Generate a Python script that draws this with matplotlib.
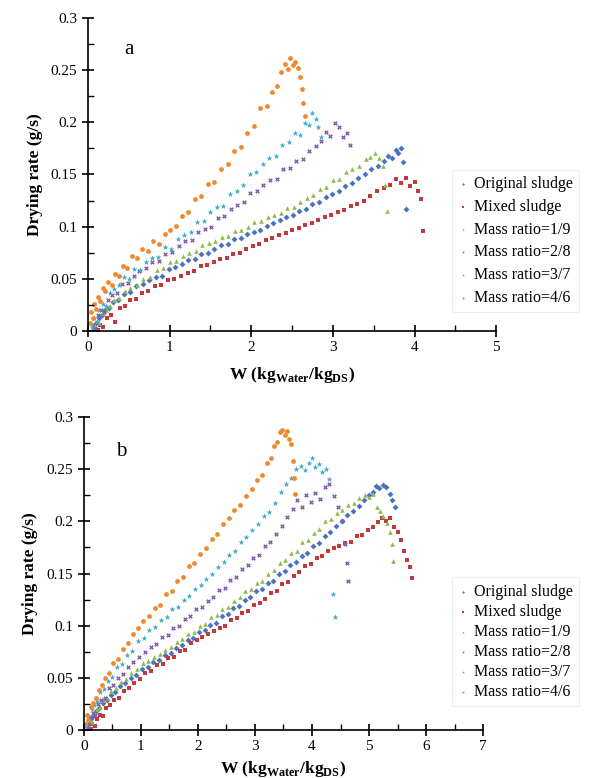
import matplotlib
matplotlib.use("Agg")
import matplotlib.pyplot as plt
from matplotlib.ticker import MultipleLocator

### Fonts (Times-like serif, as in the original figure)
plt.rcParams['font.family'] = ['Liberation Serif', 'DejaVu Serif']
plt.rcParams['mathtext.fontset'] = 'custom'
plt.rcParams['mathtext.rm'] = 'Liberation Serif'
plt.rcParams['mathtext.bf'] = 'Liberation Serif:bold'

### Series names
labels = ['Original sludge', 'Mixed sludge', 'Mass ratio=1/9',
          'Mass ratio=2/8', 'Mass ratio=3/7', 'Mass ratio=4/6']

### Panel a data (W in kg water / kg DS, drying rate in g/s)
orig_a_x = [0.07,0.1,0.13,0.17,0.21,0.26,0.31,0.37,0.44,0.51,0.59,0.67,0.75,0.83,0.91,0.99,1.07,1.15,1.23,1.31,1.39,1.47,1.55,1.63,1.71,1.79,1.87,1.95,2.03,2.11,2.19,2.27,2.35,2.43,2.51,2.59,2.67,2.75,2.83,2.91,2.99,3.07,3.15,3.23,3.31,3.39,3.47,3.55,3.62,3.68,3.73,3.77,3.8,3.83,3.86,3.9]
orig_a_y = [0.002,0.008,0.012,0.015,0.02,0.022,0.028,0.03,0.035,0.037,0.043,0.045,0.049,0.052,0.053,0.059,0.061,0.064,0.068,0.069,0.074,0.075,0.079,0.082,0.083,0.088,0.089,0.093,0.095,0.097,0.101,0.103,0.106,0.109,0.111,0.115,0.117,0.122,0.124,0.128,0.131,0.134,0.139,0.142,0.147,0.15,0.155,0.158,0.163,0.168,0.166,0.173,0.171,0.175,0.162,0.117]

mixed_a_x = [0.12,0.15,0.19,0.23,0.28,0.33,0.39,0.45,0.52,0.59,0.66,0.74,0.82,0.9,0.98,1.06,1.14,1.22,1.3,1.38,1.46,1.54,1.62,1.7,1.78,1.86,1.94,2.02,2.1,2.18,2.26,2.34,2.42,2.5,2.58,2.66,2.74,2.82,2.9,2.98,3.06,3.14,3.22,3.3,3.38,3.46,3.54,3.62,3.7,3.77,3.84,3.9,3.95,4.0,4.04,4.08,4.1]
mixed_a_y = [0.001,0.006,0.004,0.012,0.015,0.009,0.022,0.024,0.03,0.031,0.036,0.038,0.043,0.044,0.049,0.05,0.053,0.056,0.057,0.062,0.063,0.066,0.069,0.07,0.074,0.075,0.079,0.081,0.083,0.087,0.089,0.092,0.094,0.097,0.099,0.102,0.103,0.106,0.109,0.111,0.114,0.116,0.12,0.122,0.125,0.129,0.134,0.137,0.14,0.146,0.142,0.147,0.139,0.143,0.134,0.126,0.096]

r19_a_x = [0.08,0.11,0.14,0.18,0.22,0.27,0.32,0.38,0.45,0.52,0.6,0.68,0.76,0.84,0.92,1.0,1.08,1.16,1.24,1.32,1.4,1.48,1.56,1.64,1.72,1.8,1.88,1.96,2.04,2.12,2.2,2.28,2.36,2.44,2.52,2.6,2.68,2.76,2.84,2.92,3.0,3.08,3.16,3.24,3.32,3.4,3.46,3.52,3.57,3.61,3.64,3.66]
r19_a_y = [0.003,0.01,0.008,0.017,0.02,0.024,0.03,0.032,0.038,0.041,0.044,0.05,0.052,0.058,0.06,0.066,0.067,0.072,0.075,0.077,0.082,0.084,0.086,0.09,0.091,0.096,0.097,0.1,0.104,0.105,0.109,0.111,0.113,0.118,0.119,0.124,0.127,0.13,0.136,0.138,0.145,0.146,0.152,0.155,0.158,0.165,0.167,0.171,0.166,0.158,0.14,0.115]

r28_a_x = [0.06,0.09,0.12,0.16,0.2,0.25,0.3,0.36,0.42,0.49,0.56,0.63,0.71,0.79,0.87,0.95,1.03,1.11,1.19,1.27,1.35,1.43,1.51,1.59,1.67,1.75,1.83,1.91,1.99,2.07,2.15,2.23,2.31,2.39,2.47,2.55,2.63,2.71,2.79,2.86,2.92,2.97,3.02,3.07,3.12,3.17,3.21]
r28_a_y = [0.006,0.003,0.015,0.02,0.018,0.03,0.034,0.036,0.045,0.046,0.053,0.057,0.06,0.066,0.067,0.074,0.076,0.081,0.086,0.087,0.095,0.098,0.1,0.108,0.11,0.117,0.121,0.124,0.132,0.134,0.14,0.145,0.146,0.155,0.156,0.163,0.165,0.172,0.177,0.182,0.191,0.187,0.199,0.195,0.186,0.19,0.178]

r37_a_x = [0.05,0.08,0.11,0.14,0.18,0.22,0.27,0.32,0.38,0.44,0.5,0.57,0.64,0.71,0.78,0.86,0.94,1.02,1.1,1.18,1.26,1.34,1.42,1.5,1.58,1.66,1.74,1.82,1.9,1.98,2.06,2.14,2.22,2.3,2.38,2.46,2.54,2.6,2.66,2.71,2.75,2.79,2.82,2.85]
r37_a_y = [0.004,0.012,0.009,0.02,0.026,0.024,0.036,0.04,0.044,0.052,0.05,0.059,0.058,0.066,0.07,0.071,0.08,0.079,0.088,0.092,0.095,0.104,0.105,0.114,0.119,0.12,0.131,0.134,0.14,0.15,0.152,0.16,0.166,0.168,0.178,0.181,0.19,0.188,0.199,0.197,0.209,0.203,0.195,0.186]

r46_a_x = [0.02,0.04,0.06,0.08,0.1,0.12,0.15,0.18,0.21,0.25,0.29,0.33,0.38,0.43,0.48,0.54,0.6,0.66,0.73,0.8,0.87,0.94,1.01,1.08,1.15,1.23,1.31,1.39,1.47,1.55,1.63,1.71,1.79,1.87,1.95,2.03,2.11,2.19,2.26,2.32,2.37,2.41,2.45,2.48,2.51,2.54,2.57,2.6,2.62,2.64,2.66]
r46_a_y = [0.008,0.018,0.012,0.026,0.021,0.033,0.029,0.041,0.038,0.047,0.044,0.055,0.053,0.062,0.06,0.072,0.07,0.079,0.077,0.086,0.083,0.093,0.097,0.101,0.11,0.114,0.126,0.129,0.141,0.143,0.155,0.16,0.172,0.176,0.19,0.196,0.214,0.216,0.229,0.235,0.248,0.256,0.251,0.262,0.255,0.258,0.252,0.243,0.232,0.218,0.206]

### Panel b data
orig_b_x = [0.07,0.1,0.13,0.17,0.22,0.27,0.33,0.4,0.47,0.55,0.64,0.73,0.82,0.92,1.02,1.12,1.22,1.32,1.42,1.52,1.62,1.72,1.82,1.92,2.02,2.12,2.22,2.32,2.42,2.52,2.62,2.72,2.82,2.92,3.02,3.12,3.22,3.32,3.42,3.52,3.62,3.72,3.82,3.92,4.02,4.12,4.22,4.32,4.42,4.52,4.62,4.72,4.82,4.91,4.99,5.06,5.12,5.18,5.24,5.3,5.36,5.41,5.45]
orig_b_y = [0.002,0.007,0.011,0.013,0.018,0.021,0.026,0.029,0.034,0.036,0.042,0.045,0.05,0.053,0.058,0.06,0.065,0.067,0.072,0.074,0.079,0.081,0.086,0.088,0.094,0.096,0.101,0.103,0.109,0.111,0.117,0.119,0.125,0.127,0.133,0.135,0.141,0.143,0.15,0.152,0.158,0.161,0.167,0.17,0.176,0.179,0.186,0.19,0.196,0.2,0.206,0.21,0.215,0.22,0.225,0.228,0.234,0.232,0.235,0.233,0.226,0.22,0.214]

mixed_b_x = [0.12,0.15,0.19,0.23,0.28,0.33,0.39,0.46,0.53,0.61,0.7,0.79,0.88,0.98,1.08,1.18,1.28,1.38,1.48,1.58,1.68,1.78,1.88,1.98,2.08,2.18,2.28,2.38,2.48,2.58,2.68,2.78,2.88,2.98,3.08,3.18,3.28,3.38,3.48,3.58,3.68,3.78,3.88,3.98,4.08,4.18,4.28,4.38,4.48,4.58,4.68,4.78,4.88,4.98,5.07,5.15,5.23,5.3,5.37,5.44,5.5,5.56,5.61,5.66,5.71,5.75]
mixed_b_y = [0.001,0.006,0.004,0.011,0.014,0.013,0.021,0.024,0.029,0.031,0.037,0.04,0.045,0.049,0.055,0.057,0.062,0.063,0.069,0.07,0.076,0.077,0.083,0.086,0.089,0.092,0.095,0.098,0.1,0.105,0.107,0.112,0.114,0.12,0.122,0.126,0.131,0.133,0.14,0.142,0.148,0.151,0.157,0.159,0.165,0.167,0.172,0.174,0.176,0.179,0.18,0.186,0.187,0.192,0.195,0.199,0.203,0.2,0.203,0.195,0.19,0.182,0.172,0.163,0.156,0.146]

r19_b_x = [0.08,0.11,0.14,0.18,0.23,0.28,0.34,0.41,0.48,0.56,0.65,0.74,0.83,0.93,1.03,1.13,1.23,1.33,1.43,1.53,1.63,1.73,1.83,1.93,2.03,2.13,2.23,2.33,2.43,2.53,2.63,2.73,2.83,2.93,3.03,3.13,3.23,3.33,3.43,3.53,3.63,3.73,3.83,3.93,4.03,4.13,4.23,4.33,4.43,4.53,4.63,4.73,4.83,4.92,5.0,5.07,5.13,5.19,5.25,5.31,5.36,5.4,5.42]
r19_b_y = [0.003,0.01,0.008,0.016,0.02,0.022,0.029,0.031,0.037,0.04,0.046,0.049,0.055,0.058,0.064,0.066,0.07,0.073,0.077,0.08,0.084,0.087,0.092,0.094,0.1,0.102,0.108,0.11,0.116,0.118,0.124,0.127,0.133,0.135,0.141,0.143,0.15,0.153,0.16,0.163,0.17,0.172,0.18,0.182,0.189,0.193,0.2,0.202,0.208,0.211,0.216,0.218,0.222,0.225,0.223,0.226,0.214,0.21,0.205,0.198,0.19,0.178,0.162]

r28_b_x = [0.06,0.09,0.12,0.16,0.2,0.25,0.31,0.37,0.44,0.52,0.6,0.69,0.78,0.87,0.97,1.07,1.17,1.27,1.37,1.47,1.57,1.67,1.77,1.87,1.97,2.07,2.17,2.27,2.37,2.47,2.57,2.67,2.77,2.87,2.97,3.07,3.17,3.27,3.37,3.47,3.57,3.66,3.74,3.82,3.9,3.98,4.06,4.14,4.22,4.3,4.38,4.46,4.52,4.57,4.61,4.63]
r28_b_y = [0.004,0.002,0.012,0.016,0.014,0.025,0.029,0.031,0.04,0.043,0.05,0.054,0.06,0.065,0.07,0.075,0.08,0.082,0.089,0.091,0.098,0.1,0.106,0.109,0.116,0.118,0.124,0.127,0.134,0.136,0.144,0.147,0.154,0.158,0.165,0.168,0.176,0.18,0.188,0.196,0.204,0.212,0.22,0.214,0.225,0.219,0.227,0.221,0.233,0.236,0.224,0.214,0.2,0.178,0.16,0.143]

r37_b_x = [0.04,0.07,0.1,0.14,0.18,0.23,0.29,0.35,0.42,0.5,0.58,0.67,0.76,0.85,0.95,1.05,1.15,1.25,1.35,1.45,1.55,1.65,1.75,1.85,1.95,2.05,2.15,2.25,2.35,2.45,2.55,2.65,2.75,2.85,2.95,3.05,3.15,3.25,3.35,3.45,3.55,3.64,3.72,3.8,3.87,3.94,4.0,4.06,4.12,4.18,4.24,4.3,4.37,4.4]
r37_b_y = [0.004,0.012,0.009,0.02,0.024,0.028,0.036,0.039,0.047,0.051,0.06,0.063,0.072,0.076,0.085,0.088,0.096,0.099,0.105,0.108,0.116,0.118,0.125,0.128,0.135,0.139,0.145,0.15,0.156,0.161,0.168,0.172,0.18,0.185,0.192,0.197,0.205,0.209,0.218,0.228,0.236,0.242,0.25,0.253,0.249,0.256,0.261,0.252,0.255,0.247,0.25,0.241,0.13,0.108]

r46_b_x = [0.02,0.05,0.08,0.12,0.16,0.21,0.26,0.32,0.38,0.45,0.52,0.6,0.68,0.77,0.86,0.95,1.04,1.14,1.24,1.34,1.44,1.54,1.64,1.74,1.84,1.94,2.04,2.14,2.24,2.34,2.44,2.54,2.64,2.74,2.84,2.94,3.04,3.13,3.21,3.28,3.34,3.39,3.44,3.48,3.52,3.56,3.6,3.63,3.66,3.68,3.7]
r46_b_y = [0.006,0.014,0.01,0.022,0.026,0.031,0.038,0.043,0.05,0.055,0.064,0.068,0.078,0.083,0.092,0.098,0.104,0.109,0.117,0.12,0.13,0.133,0.143,0.147,0.157,0.16,0.169,0.174,0.183,0.188,0.197,0.203,0.211,0.216,0.224,0.231,0.24,0.244,0.256,0.261,0.272,0.276,0.286,0.288,0.283,0.287,0.279,0.274,0.258,0.242,0.226]

### Styles (Excel 2010 palette and default markers)
colors = ['#4A72C0', '#C0393B', '#8DBB4A', '#7F5FA8', '#3AAAC8', '#F0892E']
markers = ['D', 's', '^', 'X', '*', 'o']
sizes = [9, 12, 11, 11, 20, 12]

panel_a = [(orig_a_x, orig_a_y), (mixed_a_x, mixed_a_y), (r19_a_x, r19_a_y),
           (r28_a_x, r28_a_y), (r37_a_x, r37_a_y), (r46_a_x, r46_a_y)]
panel_b = [(orig_b_x, orig_b_y), (mixed_b_x, mixed_b_y), (r19_b_x, r19_b_y),
           (r28_b_x, r28_b_y), (r37_b_x, r37_b_y), (r46_b_x, r46_b_y)]

fig = plt.figure(figsize=(5.9, 7.78), dpi=100)
ax_a = fig.add_axes([0.149, 0.5746, 0.692, 0.4024])
ax_b = fig.add_axes([0.142, 0.0617, 0.677, 0.4023])

xlabel = r'W (kg$_{\mathbf{Water}}$/kg$_{\mathbf{DS}}$)'


def draw_panel(ax, data, xmax, letter, letter_pos, legend_anchor, legend_spacing, xpad):
    for (x, y), c, m, s, lab in zip(data, colors, markers, sizes, labels):
        ax.scatter(x, y, s=s, c=c, marker=m, linewidths=0, label=lab)
    ax.set_xlim(0, xmax)
    ax.set_ylim(0, 0.3)
    ax.xaxis.set_major_locator(MultipleLocator(1))
    ax.xaxis.set_minor_locator(MultipleLocator(0.5))
    ax.yaxis.set_major_locator(MultipleLocator(0.05))
    ax.yaxis.set_minor_locator(MultipleLocator(0.025))
    ax.yaxis.set_major_formatter(plt.FuncFormatter(lambda v, p: '0' if v == 0 else f'{v:g}'))
    for side in ['top', 'right']:
        ax.spines[side].set_visible(False)
    for side in ['left', 'bottom']:
        ax.spines[side].set_linewidth(1.2)
    ax.tick_params(which='major', direction='inout', length=8, width=1.2, labelsize=11)
    ax.tick_params(which='minor', direction='in', length=4, width=1.0)
    ax.set_ylabel('Drying rate (g/s)', fontsize=12.5, fontweight='bold', labelpad=6)
    ax.set_xlabel(xlabel, fontsize=12.5, fontweight='bold', labelpad=xpad)
    ax.text(letter_pos[0], letter_pos[1], letter, fontsize=15, ha='center', va='center')
    leg = fig.legend(*ax.get_legend_handles_labels(), loc='upper left',
                     bbox_to_anchor=legend_anchor, fontsize=11.5, markerscale=0.45,
                     handlelength=0.6, handletextpad=0.4, labelspacing=legend_spacing,
                     borderpad=0.4, fancybox=False, frameon=True)
    leg.get_frame().set_edgecolor('#ececec')
    leg.get_frame().set_linewidth(0.8)


draw_panel(ax_a, panel_a, 5, 'a', (0.5, 0.27), (0.752, 0.792), 0.42, 8)
draw_panel(ax_b, panel_b, 7, 'b', (0.65, 0.267), (0.752, 0.268), 0.25, 4)

plt.savefig('out.png', dpi=100)
